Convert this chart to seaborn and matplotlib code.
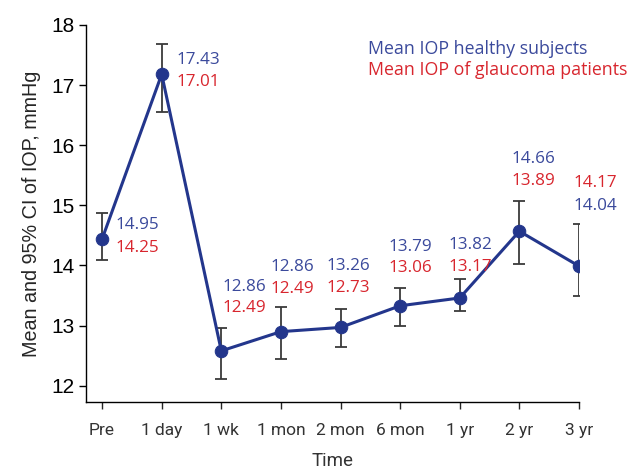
import numpy as np
import pandas as pd
import seaborn as sns
import matplotlib.pyplot as plt

times = ["Pre", "1 day", "1 wk", "1 mon", "2 mon", "6 mon", "1 yr", "2 yr", "3 yr"]
mean_iop = [14.44, 17.18, 12.58, 12.90, 12.97, 13.33, 13.46, 14.57, 13.99]
ci_low = [14.09, 16.56, 12.11, 12.45, 12.65, 13.00, 13.24, 14.02, 13.50]
ci_high = [14.87, 17.68, 12.96, 13.31, 13.28, 13.63, 13.77, 15.08, 14.69]
healthy = ["14.95", "17.43", "12.86", "12.86", "13.26", "13.79", "13.82", "14.66", "14.04"]
glaucoma = ["14.25", "17.01", "12.49", "12.49", "12.73", "13.06", "13.17", "13.89", "14.17"]

# label offsets in pixels (dx, dy_blue, dy_red), text anchor
offsets = [(13, -14, 9, "left"), (15, -14, 8, "left"), (1, -64, -43, "left"),
           (11, -65, -43, "center"), (8, -61, -39, "center"), (10, -59, -38, "center"),
           (11, -53, -31, "center"), (14, -72, -50, "center"), (16, -60, -83, "center")]

df = pd.DataFrame({"t": np.arange(len(times)), "iop": mean_iop})

sns.set_style("ticks")
plt.rcParams["font.family"] = ["Liberation Sans", "DejaVu Sans"]

fig = plt.figure(figsize=(6.3, 4.71), dpi=100)
ax = fig.add_axes([0.1365, 0.1465, 0.7825, 0.8005])

navy = "#23368c"
blue = "#3b4a9c"
red = "#d8262e"
num_font = ["Open Sans", "DejaVu Sans"]

err = [np.array(mean_iop) - np.array(ci_low), np.array(ci_high) - np.array(mean_iop)]
ax.errorbar(df["t"], df["iop"], yerr=err, fmt="none", ecolor="#3a3a3a",
            elinewidth=1.3, capsize=4, capthick=1.3, zorder=1)
sns.lineplot(data=df, x="t", y="iop", color=navy, linewidth=2.2, marker="o",
             markersize=9, markeredgecolor=navy, ax=ax, zorder=3)

for i in range(len(times)):
    dx, dyb, dyr, ha = offsets[i]
    ax.annotate(healthy[i], (i, mean_iop[i]), xytext=(dx * 0.72, -dyb * 0.72),
                textcoords="offset points", ha=ha, va="center", color=blue,
                fontsize=12.3, family=num_font)
    ax.annotate(glaucoma[i], (i, mean_iop[i]), xytext=(dx * 0.72, -dyr * 0.72),
                textcoords="offset points", ha=ha, va="center", color=red,
                fontsize=12.3, family=num_font)

ax.text(368 / 630, 1 - 49 / 471, "Mean IOP healthy subjects", transform=fig.transFigure,
        color=blue, fontsize=12.8, va="center", family=num_font)
ax.text(368 / 630, 1 - 70 / 471, "Mean IOP of glaucoma patients", transform=fig.transFigure,
        color=red, fontsize=12.8, va="center", family=num_font)

ax.set_xlim(-0.27, 8)
ax.set_ylim(11.73, 18)
ax.set_yticks(range(12, 19))
ax.set_xticks(range(len(times)))
ax.set_xticklabels(times, family=["Roboto", "DejaVu Sans"], fontsize=12.5, color="#333333")
ax.tick_params(axis="y", labelsize=15, length=5, width=1, colors="black")
ax.tick_params(axis="x", length=5, width=1, pad=10)
ax.set_xlabel("Time", family=["Roboto", "DejaVu Sans"], fontsize=13.5, color="#333333", labelpad=10)
ax.set_ylabel("Mean and 95% CI of IOP, mmHg", fontsize=14.2, labelpad=7)
sns.despine(ax=ax)
for s in ["left", "bottom"]:
    ax.spines[s].set_linewidth(1)
    ax.spines[s].set_color("black")

fig.savefig("out.png", dpi=100)
